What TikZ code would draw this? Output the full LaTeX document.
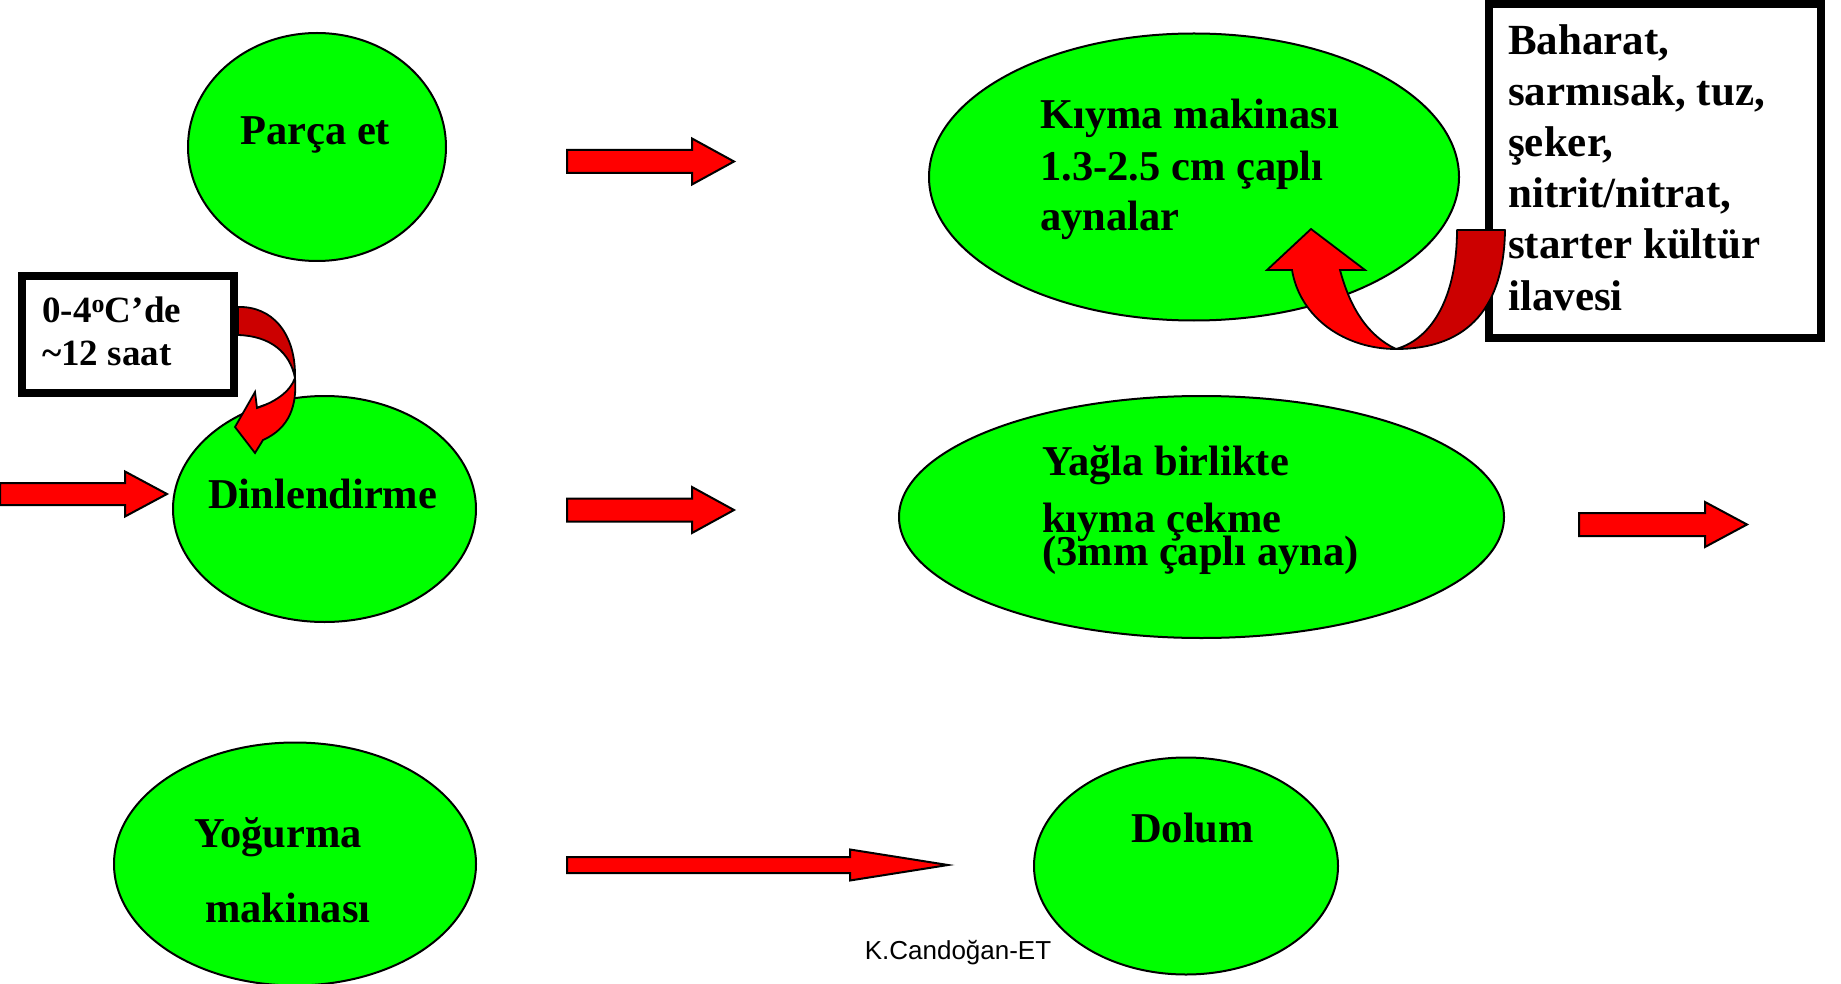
\documentclass[tikz,border=0pt]{standalone}
\usepackage{fontspec}
\setmainfont{Liberation Serif}
\setsansfont{Liberation Sans}
\usetikzlibrary{shapes.geometric}
\definecolor{stagegreen}{HTML}{00FF00}
\definecolor{flowred}{HTML}{FF0000}
\definecolor{flowdark}{HTML}{CC0000}

% straight block arrow: start point, length, shaft half-height, head half-height, head length
\newcommand\blockarrow[5]{%
  \filldraw[flowarrow] (#1) ++(0,-#3) -- ++(#2-#5,0) -- ++(0,#3-#4) -- ++(#5,#4)
    -- ++(-#5,#4) -- ++(0,#3-#4) -- ++(-#2+#5,0) -- cycle;}

\begin{document}
\begin{tikzpicture}[x=1pt,y=-1pt,
  stage/.style={ellipse, draw=black, line width=2pt, fill=stagegreen, inner sep=0pt},
  notebox/.style={rectangle, draw=black, line width=8pt, fill=white, inner sep=0pt},
  lbl/.style={anchor=base west, inner sep=0pt, font=\fontsize{42.5}{42.5}\selectfont\bfseries},
  boxlbl/.style={anchor=base west, inner sep=0pt, font=\fontsize{43}{43}\selectfont\bfseries},
  smalllbl/.style={anchor=base west, inner sep=0pt, font=\fontsize{37}{37}\selectfont\bfseries},
  flowarrow/.style={fill=flowred, draw=black, line width=2pt, line join=miter},
  backband/.style={fill=flowdark, draw=black, line width=1.8pt, line join=round},
  frontband/.style={fill=flowred, draw=black, line width=1.8pt, line join=miter}]
\useasboundingbox (0,0) rectangle (1841,984);

% process stages
\node[stage, minimum width=258pt, minimum height=228pt] (parca)   at (317,147)  {};
\node[stage, minimum width=530pt, minimum height=287pt] (kiyma)   at (1194,177) {};
\node[stage, minimum width=303pt, minimum height=226pt] (dinlen)  at (324.5,509) {};
\node[stage, minimum width=605pt, minimum height=242pt] (yagla)   at (1201.5,517) {};
\node[stage, minimum width=362pt, minimum height=243pt] (yogurma) at (295,864)  {};
\node[stage, minimum width=304pt, minimum height=217pt] (dolum)   at (1186,866) {};

% side notes
\node[notebox, minimum width=212pt, minimum height=117pt] (restbox) at (128,334.5) {};
\node[notebox, minimum width=332pt, minimum height=334pt] (spicebox) at (1655,171) {};

% stage labels
\node[lbl] (tparca) at (240,145) {Parça et};
\node[lbl] (tkiyma1) at (1040,129) {Kıyma makinası};
\node[lbl] (tkiyma2) at (1040,181) {1.3-2.5 cm çaplı};
\node[lbl] (tkiyma3) at (1040,231) {aynalar};
\node[lbl] (tdinlen) at (208,508) {Dinlendirme};
\node[lbl] (tyagla1) at (1042,475) {Yağla birlikte};
\node[lbl] (tyagla2) at (1042,532) {kıyma çekme};
\node[lbl] (tyagla3) at (1042,565) {(3mm çaplı ayna)};
\node[lbl] (tyog1) at (194,847) {Yoğurma};
\node[lbl] (tyog2) at (205,922) {makinası};
\node[lbl] (tdolum) at (1131,842) {Dolum};

% note texts
\node[smalllbl] (trest1) at (42,322) {0-4\textsuperscript{o}C’de};
\node[smalllbl] (trest2) at (42,365) {\char`\~12 saat};
\node[boxlbl] (tsp1) at (1508,55)  {Baharat,};
\node[boxlbl] (tsp2) at (1508,106) {sarmısak, tuz,};
\node[boxlbl] (tsp3) at (1508,157) {şeker,};
\node[boxlbl] (tsp4) at (1508,208) {nitrit/nitrat,};
\node[boxlbl] (tsp5) at (1508,259) {starter kültür};
\node[boxlbl] (tsp6) at (1508,310) {ilavesi};

\node[font=\sffamily\fontsize{26}{26}\selectfont, inner sep=0pt] (credit) at (958,953) {K.Candoğan-ET};

% straight flow arrows
\coordinate (a1) at (567,161.5);
\coordinate (a2) at (567,510);
\coordinate (a3) at (0,494);
\coordinate (a4) at (1579,524.5);
\coordinate (a5) at (567,865);
\blockarrow{a1}{167}{11.5}{23}{42}
\blockarrow{a2}{167}{11.5}{23}{42}
\blockarrow{a3}{167}{11}{22.5}{42}
\blockarrow{a4}{168}{11.5}{22.5}{42}
\blockarrow{a5}{381}{8}{15.5}{98}

% curved arrow from the resting note into the resting stage
\filldraw[backband] (238,307) .. controls (272,306) and (296,333) .. (295,378)
  .. controls (290,352) and (270,336) .. (238,335) -- cycle;
\filldraw[frontband] (295,378) .. controls (297,405) and (290,428) .. (263,440)
  -- (255,453) -- (235,427) -- (255,392) -- (257,408)
  .. controls (275,402) and (290,392) .. (295,378) -- cycle;

% curved arrow from the additives note into the mincing stage
\filldraw[backband] (1457,230) -- (1505,230) .. controls (1504,305) and (1470,349) .. (1396,349)
  .. controls (1435,338) and (1457,292) .. (1457,230) -- cycle;
\filldraw[frontband] (1396,349) .. controls (1345,349) and (1300,318) .. (1292,270)
  -- (1267,270) -- (1311,229) -- (1365,270) -- (1340,270)
  .. controls (1350,308) and (1368,336) .. (1396,349) -- cycle;
\end{tikzpicture}
\end{document}
